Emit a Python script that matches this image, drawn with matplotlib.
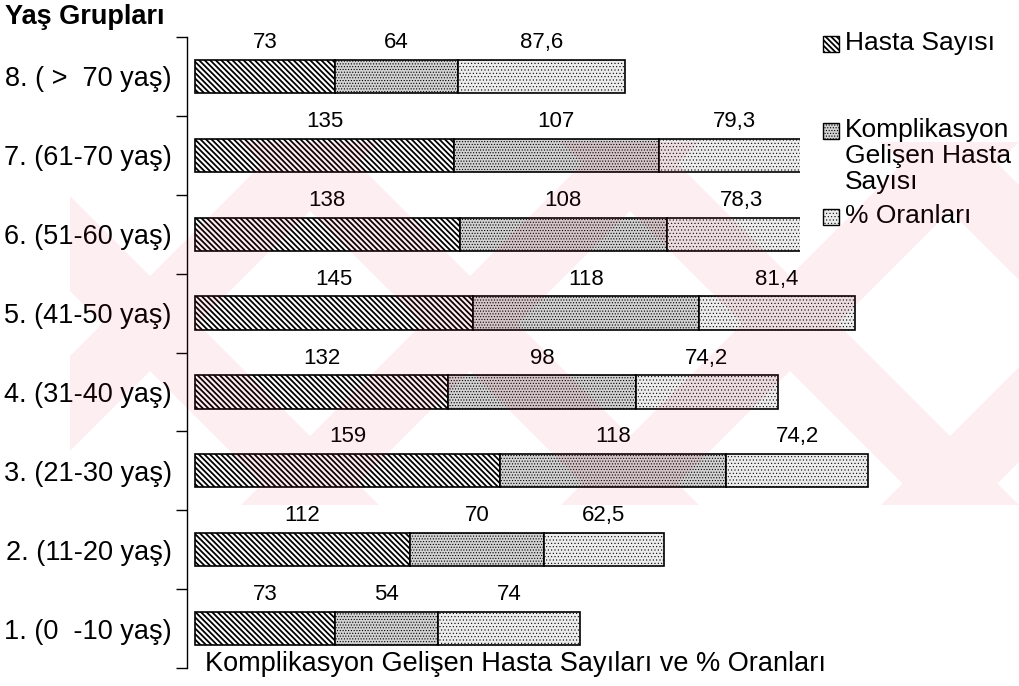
import numpy as np
import matplotlib.pyplot as plt
from matplotlib.patches import Rectangle, PathPatch
from matplotlib.path import Path

plt.rcParams['font.family'] = ['Liberation Sans', 'DejaVu Sans']

# age groups, bottom to top
groups = ['1. (0  -10 yaş)', '2. (11-20 yaş)', '3. (21-30 yaş)', '4. (31-40 yaş)',
          '5. (41-50 yaş)', '6. (51-60 yaş)', '7. (61-70 yaş)', '8. ( >  70 yaş)']
hasta = [73, 112, 159, 132, 145, 138, 135, 73]
komplikasyon = [54, 70, 118, 98, 118, 108, 107, 64]
oran = [74, 62.5, 74.2, 74.2, 81.4, 78.3, 79.3, 87.6]

series_names = ['Hasta Sayısı', 'Komplikasyon\nGelişen Hasta\nSayısı', '% Oranları']
faces = ['white', '#d2d2d2', '#ececec']
hatches = ['\\' * 6, '......', '.....']
hatch_lw = [1.3, 0.5, 0.4]

W, H = 1020, 686
fig = plt.figure(figsize=(W / 100, H / 100), dpi=100)
ax = fig.add_axes([187 / W, 1 - 668 / H, (1000 - 187) / W, (668 - 37) / H])

y = np.arange(len(groups))
left = np.zeros(len(groups))
for vals, fc, ht, hl in zip([hasta, komplikasyon, oran], faces, hatches, hatch_lw):
    vals = np.array(vals, dtype=float)
    with plt.rc_context({'hatch.linewidth': hl}):
        ax.barh(y, vals, left=left, height=0.42, color=fc, hatch=ht,
                edgecolor='black', linewidth=1.2, zorder=2)
    for yi, l, v in zip(y, left, vals):
        ax.text(l + v / 2, yi + 0.43, f'{v:g}'.replace('.', ','),
                ha='center', va='center', fontsize=16)
    left += vals

ax.set_xlim(-4.18, 420)
ax.set_ylim(-0.5, 7.5)
ax.set_xticks([])
ax.set_yticks(y)
ax.set_yticklabels(groups, fontsize=19.5)
ax.set_yticks(np.arange(-0.5, 8, 1), minor=True)
ax.tick_params(axis='y', which='major', length=0, pad=11)
ax.tick_params(axis='y', which='minor', length=8, width=1, direction='out')
for s in ['top', 'right', 'bottom']:
    ax.spines[s].set_visible(False)
ax.spines['left'].set_linewidth(1)

fig.text(5 / W, 1 - 17 / H, 'Yaş Grupları', fontsize=19.5, fontweight='bold',
         va='center', ha='left')
fig.text(205 / W, 1 - 664 / H, 'Komplikasyon Gelişen Hasta Sayıları ve % Oranları',
         fontsize=19.5, va='center', ha='left')

# legend drawn by hand on a white box at the upper right
over = fig.add_axes([0, 0, 1, 1], zorder=5)
over.set_xlim(0, W)
over.set_ylim(H, 0)
over.axis('off')
over.add_patch(Rectangle((800, 0), 220, 255, facecolor='white', edgecolor='none'))
leg_y = [44, 131, 217]
for ly, name, fc, ht, hl in zip(leg_y, series_names, faces, hatches, hatch_lw):
    with plt.rc_context({'hatch.linewidth': hl}):
        over.add_patch(Rectangle((823, ly - 8), 16, 16, facecolor=fc, hatch=ht,
                                 edgecolor='black', linewidth=1))
    over.text(845, ly - 13, name, fontsize=19, va='top', ha='left', linespacing=1.1)

# faint pink watermark over the plot
wm = fig.add_axes([0, 0, 1, 1], zorder=10)
wm.set_xlim(0, W)
wm.set_ylim(H, 0)
wm.axis('off')
top, bot, w = 142, 505, 95
rise = bot - top
verts, codes = [], []
for cx in [150, 470, 790, 1110]:
    b = cx - rise / 2 - w / 2
    for poly in ([(b, bot), (b + w, bot), (b + w + rise, top), (b + rise, top)],
                 [(b + rise, bot), (b + w + rise, bot), (b + w, top), (b, top)]):
        verts += poly + [poly[0]]
        codes += [Path.MOVETO, Path.LINETO, Path.LINETO, Path.LINETO, Path.CLOSEPOLY]
band = PathPatch(Path(verts, codes), facecolor='#e6143c', edgecolor='none', alpha=0.07)
wm.add_patch(band)
band.set_clip_path(Rectangle((70, top), W - 70, rise, transform=wm.transData))

fig.savefig('out.png', dpi=100)
